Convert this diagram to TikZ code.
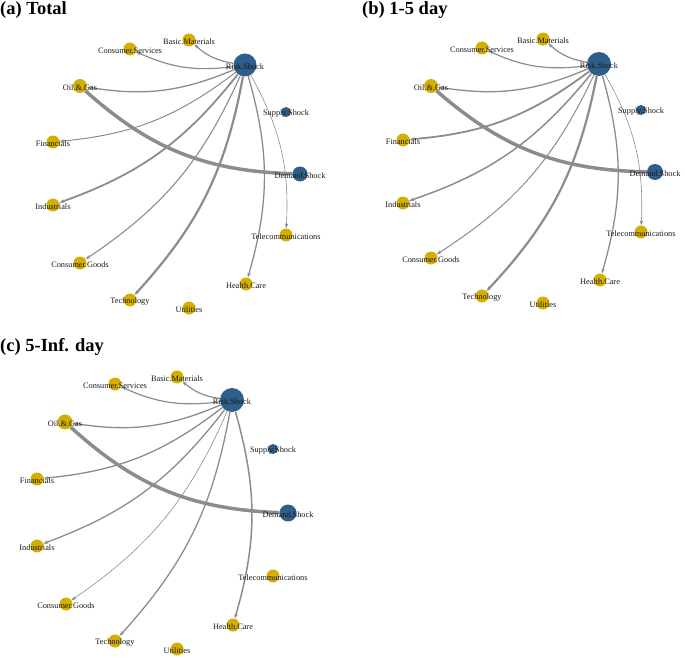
\documentclass[tikz,border=0pt]{standalone}
\usepackage{fontspec}
\setmainfont{Liberation Serif}
\usetikzlibrary{arrows.meta}
\pgfdeclarelayer{background}
\pgfsetlayers{background,main}
\definecolor{nodegold}{RGB}{212,175,0}
\definecolor{nodeblue}{RGB}{46,94,137}
\definecolor{edgegray}{RGB}{140,140,140}
\tikzset{
  sector/.style={circle, fill=nodegold, inner sep=0pt, minimum size=13pt},
  shock/.style={circle, fill=nodeblue, inner sep=0pt},
  lbl/.style={font=\fontsize{8.3}{9}\selectfont, inner sep=0pt, yshift=-1.5pt, text=black!90},
  link/.style={draw=edgegray, bend left=16, -{Stealth[length=5pt,width=3.5pt]}},
  heading/.style={font=\fontsize{18.5}{21}\selectfont\bfseries, anchor=base west, inner sep=0pt}
}
\begin{document}
\begin{tikzpicture}[x=1pt,y=1pt]
  \useasboundingbox (0,0) rectangle (685,-658);

  % (a) Total
  \node[heading] (title-a) at (0,-14.5) {(a) Total};
  \begin{scope}
    \node[sector, label={[lbl]center:Basic.Materials}] (bm-a) at (189,-40) {};
    \node[sector, label={[lbl]center:Consumer.Services}] (cs-a) at (130,-49) {};
    \node[sector, minimum size=14pt, label={[lbl]center:Oil.\&.Gas}] (oil-a) at (80,-86) {};
    \node[sector, label={[lbl]center:Financials}] (fin-a) at (53,-142) {};
    \node[sector, label={[lbl]center:Industrials}] (ind-a) at (53,-205) {};
    \node[sector, label={[lbl]center:Consumer.Goods}] (cg-a) at (80,-263) {};
    \node[sector, label={[lbl]center:Technology}] (tech-a) at (130,-300) {};
    \node[sector, label={[lbl]center:Utilities}] (util-a) at (189,-308) {};
    \node[sector, label={[lbl]center:Health.Care}] (hc-a) at (246,-284) {};
    \node[sector, label={[lbl]center:Telecommunications}] (tele-a) at (286,-235) {};
    \node[shock, minimum size=23pt, label={[lbl]center:Risk.Shock}] (risk-a) at (245,-65) {};
    \node[shock, minimum size=10pt, label={[lbl]center:Supply.Shock}] (sup-a) at (286,-112) {};
    \node[shock, minimum size=15pt, label={[lbl]center:Demand.Shock}] (dem-a) at (300,-174) {};
  \end{scope}
  \begin{pgfonlayer}{background}
    \path (risk-a) edge[link, line width=1.2pt] (bm-a);
    \path (risk-a) edge[link, line width=1.2pt] (cs-a);
    \path (risk-a) edge[link, line width=1.3pt] (oil-a);
    \path (risk-a) edge[link, line width=1.0pt] (fin-a);
    \path (risk-a) edge[link, line width=1.8pt] (ind-a);
    \path (risk-a) edge[link, line width=1.1pt] (cg-a);
    \path (risk-a) edge[link, line width=2.2pt] (tech-a);
    \path (risk-a) edge[link, line width=1.3pt] (hc-a);
    \path (risk-a) edge[link, line width=0.6pt] (tele-a);
    \path (dem-a) edge[link, -, line width=3.5pt, bend left=20] (oil-a);
  \end{pgfonlayer}

  % (b) 1-5 day
  \node[heading] (title-b) at (362,-14.5) {(b) 1-5 day};
  \begin{scope}
    \node[sector, label={[lbl]center:Basic.Materials}] (bm-b) at (543,-39) {};
    \node[sector, label={[lbl]center:Consumer.Services}] (cs-b) at (482,-48) {};
    \node[sector, minimum size=14pt, label={[lbl]center:Oil.\&.Gas}] (oil-b) at (431,-86) {};
    \node[sector, label={[lbl]center:Financials}] (fin-b) at (403,-140) {};
    \node[sector, label={[lbl]center:Industrials}] (ind-b) at (403,-203) {};
    \node[sector, label={[lbl]center:Consumer.Goods}] (cg-b) at (431,-258) {};
    \node[sector, label={[lbl]center:Technology}] (tech-b) at (482,-296) {};
    \node[sector, label={[lbl]center:Utilities}] (util-b) at (543,-303) {};
    \node[sector, label={[lbl]center:Health.Care}] (hc-b) at (600,-280) {};
    \node[sector, label={[lbl]center:Telecommunications}] (tele-b) at (641,-232) {};
    \node[shock, minimum size=24pt, label={[lbl]center:Risk.Shock}] (risk-b) at (599,-64) {};
    \node[shock, minimum size=10pt, label={[lbl]center:Supply.Shock}] (sup-b) at (641,-110) {};
    \node[shock, minimum size=16pt, label={[lbl]center:Demand.Shock}] (dem-b) at (655,-172) {};
  \end{scope}
  \begin{pgfonlayer}{background}
    \path (risk-b) edge[link, line width=1.2pt] (bm-b);
    \path (risk-b) edge[link, line width=1.2pt] (cs-b);
    \path (risk-b) edge[link, line width=1.3pt] (oil-b);
    \path (risk-b) edge[link, line width=1.8pt] (fin-b);
    \path (risk-b) edge[link, line width=1.5pt] (ind-b);
    \path (risk-b) edge[link, line width=1.0pt] (cg-b);
    \path (risk-b) edge[link, line width=2.2pt] (tech-b);
    \path (risk-b) edge[link, line width=1.3pt] (hc-b);
    \path (risk-b) edge[link, line width=0.6pt] (tele-b);
    \path (dem-b) edge[link, -, line width=3.5pt, bend left=20] (oil-b);
  \end{pgfonlayer}

  % (c) 5-Inf. day
  \node[heading] (title-c) at (0,-351) {(c) 5-Inf. day};
  \begin{scope}
    \node[sector, label={[lbl]center:Basic.Materials}] (bm-c) at (177,-377) {};
    \node[sector, label={[lbl]center:Consumer.Services}] (cs-c) at (115,-384) {};
    \node[sector, minimum size=15pt, label={[lbl]center:Oil.\&.Gas}] (oil-c) at (65,-422) {};
    \node[sector, label={[lbl]center:Financials}] (fin-c) at (37,-479) {};
    \node[sector, label={[lbl]center:Industrials}] (ind-c) at (37,-546) {};
    \node[sector, label={[lbl]center:Consumer.Goods}] (cg-c) at (66,-604) {};
    \node[sector, label={[lbl]center:Technology}] (tech-c) at (115,-641) {};
    \node[sector, label={[lbl]center:Utilities}] (util-c) at (177,-649) {};
    \node[sector, label={[lbl]center:Health.Care}] (hc-c) at (233,-625) {};
    \node[sector, label={[lbl]center:Telecommunications}] (tele-c) at (273,-576) {};
    \node[shock, minimum size=24pt, label={[lbl]center:Risk.Shock}] (risk-c) at (232,-400) {};
    \node[shock, minimum size=10pt, label={[lbl]center:Supply.Shock}] (sup-c) at (273,-449) {};
    \node[shock, minimum size=17pt, label={[lbl]center:Demand.Shock}] (dem-c) at (288,-513) {};
  \end{scope}
  \begin{pgfonlayer}{background}
    \path (risk-c) edge[link, line width=1.2pt] (bm-c);
    \path (risk-c) edge[link, line width=1.2pt] (cs-c);
    \path (risk-c) edge[link, line width=1.3pt] (oil-c);
    \path (risk-c) edge[link, line width=1.3pt] (fin-c);
    \path (risk-c) edge[link, line width=1.3pt] (ind-c);
    \path (risk-c) edge[link, line width=0.6pt] (cg-c);
    \path (risk-c) edge[link, line width=1.3pt] (tech-c);
    \path (risk-c) edge[link, line width=1.5pt] (hc-c);
    \path (dem-c) edge[link, -, line width=3.5pt, bend left=20] (oil-c);
  \end{pgfonlayer}

\end{tikzpicture}
\end{document}
